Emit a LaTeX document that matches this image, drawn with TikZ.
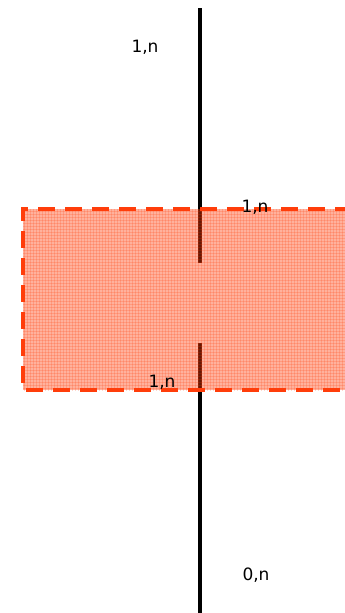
\documentclass[tikz,border=0pt]{standalone}
\usepackage{fontspec}
\setmainfont{DejaVu Sans}
\usetikzlibrary{patterns}
\definecolor{boxred}{HTML}{FF3D0A}
\tikzset{link/.style={line width=4pt},
  card/.style={font=\fontsize{17}{19}\selectfont, inner sep=1pt}}

\begin{document}
\begin{tikzpicture}[x=1pt, y=-1pt]
\useasboundingbox (0,0) rectangle (345,613);
\clip (0,0) rectangle (345,613);
\coordinate (top) at (200,8);
\coordinate (topend) at (200,263);
\coordinate (botstart) at (200,343);
\coordinate (bot) at (200,613);
\draw[link] (top) -- (topend);
\draw[link] (botstart) -- (bot);
\fill[boxred, opacity=0.4] (23,209) rectangle (352,390);
\fill[pattern=grid, pattern color=boxred, opacity=0.2] (23,209) rectangle (352,390);
\draw[boxred, line width=4pt, dash pattern=on 17pt off 10pt]
  (352,209) -- (23,209) -- (23,390) -- (352,390);
\node[card] (c1) at (145,47) {1,n};
\node[card] (c2) at (255,207) {1,n};
\node[card] (c3) at (162,382) {1,n};
\node[card] (c4) at (256,575) {0,n};
\end{tikzpicture}
\end{document}
